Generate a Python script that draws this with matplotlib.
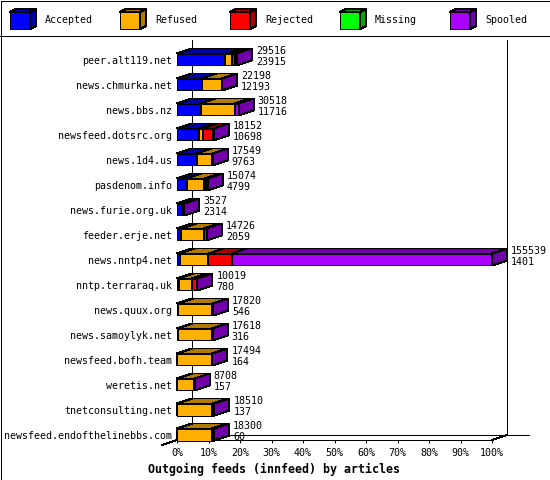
import numpy as np
import matplotlib
matplotlib.use("Agg")
import matplotlib.pyplot as plt
from matplotlib.patches import Polygon, Rectangle

# ---------------- data ----------------
feeds = ["peer.alt119.net", "news.chmurka.net", "news.bbs.nz", "newsfeed.dotsrc.org",
         "news.1d4.us", "pasdenom.info", "news.furie.org.uk", "feeder.erje.net",
         "news.nntp4.net", "nntp.terraraq.uk", "news.quux.org", "news.samoylyk.net",
         "newsfeed.bofh.team", "weretis.net", "tnetconsulting.net",
         "newsfeed.endofthelinebbs.com"]
offered = [29516, 22198, 30518, 18152, 17549, 15074, 3527, 14726,
           155539, 10019, 17820, 17618, 17494, 8708, 18510, 18300]
accepted = [23915, 12193, 11716, 10698, 9763, 4799, 2314, 2059,
            1401, 780, 546, 316, 164, 157, 137, 60]
refused = [3200, 9905, 16940, 2000, 7686, 8700, 800, 11260,
           14070, 6470, 16900, 16900, 16900, 8300, 17200, 17040]
rejected = [1300, 0, 0, 4950, 0, 650, 0, 0,
            11555, 2470, 0, 0, 0, 0, 0, 0]
missing = [0, 0, 0, 0, 0, 0, 0, 0, 0, 0, 0, 0, 0, 0, 0, 0]
spooled = [1101, 100, 1862, 504, 100, 925, 413, 1407,
           128513, 299, 374, 402, 430, 251, 1173, 1200]

series_names = ["Accepted", "Refused", "Rejected", "Missing", "Spooled"]
front_colors = ["#0000FF", "#FFB000", "#FF0000", "#00FF00", "#AA00FF"]
dark_colors = ["#0000AA", "#B07A00", "#AA0000", "#00AA00", "#7200AA"]
xticks = [0, 10, 20, 30, 40, 50, 60, 70, 80, 90, 100]
xtick_labels = ["0%", "10%", "20%", "30%", "40%", "50%", "60%", "70%", "80%", "90%", "100%"]
xlabel = "Outgoing feeds (innfeed) by articles"

# ---------------- layout ----------------
W, H = 550, 480
FONT = "DejaVu Sans Mono"
FS = 7.2
LW = 0.72  # 1 px at 100 dpi

fig = plt.figure(figsize=(W / 100, H / 100), dpi=100)
fig.patch.set_facecolor("white")

# background overlay in pixel coordinates: frame + legend
bg = fig.add_axes([0, 0, 1, 1], zorder=0)
bg.set_xlim(0, W)
bg.set_ylim(H, 0)
bg.axis("off")
bg.add_patch(Rectangle((0.5, 0.5), W - 1, H - 1, fill=False, ec="black", lw=LW,
                       antialiased=False))
bg.plot([0, W], [35.5, 35.5], color="black", lw=LW, antialiased=False)

for k, name in enumerate(series_names):
    x = 10 + 110 * k
    fc, dc = front_colors[k], dark_colors[k]
    top = [(x, 12), (x + 20, 12), (x + 26, 9), (x + 6, 9)]
    side = [(x + 20, 12), (x + 20, 29), (x + 26, 26), (x + 26, 9)]
    bg.add_patch(Polygon(top, closed=True, fc=dc, ec="black", lw=LW, antialiased=False))
    bg.add_patch(Rectangle((x, 12), 20, 17, fc=fc, ec="black", lw=LW, antialiased=False))
    bg.add_patch(Polygon(side, closed=True, fc=dc, ec="black", lw=LW, antialiased=False))
    bg.text(x + 35, 23, name, ha="left", va="baseline", family=FONT, fontsize=FS)

# main axes: x 0..100 %, rows on y
ax = fig.add_axes([177 / W, 40 / H, 315 / W, 400 / H], zorder=1)
ax.set_facecolor("none")
n = len(feeds)
ax.set_xlim(0, 100)
ax.set_ylim(15.22, -0.78)
for s in ["left", "right", "top"]:
    ax.spines[s].set_visible(False)
ax.spines["bottom"].set_linewidth(LW)
ax.spines["bottom"].set_antialiased(False)
ax.set_yticks([])
ax.set_xticks(xticks)
ax.tick_params(axis="x", direction="out", length=2.2, width=LW, labelbottom=False)

# depth offsets (15 px right, 5 px up) converted into data units
ox, oy = ax.transData.transform((0, 0))
p = ax.transData.inverted().transform((ox + 15, oy + 5))
DX, DY = p[0], p[1]
p2 = ax.transData.inverted().transform((ox, oy + 6))
HH = abs(p2[1])
p3 = ax.transData.inverted().transform((ox + 22, oy))
EXT = p3[0]

ybot, ytop = ax.get_ylim()
line_kw = dict(color="black", lw=LW, antialiased=False, clip_on=False, zorder=1)
ax.plot([DX, DX], [ytop, ybot + DY], **line_kw)
ax.plot([100 + DX, 100 + DX], [ytop, ybot + DY], **line_kw)
ax.plot([DX, 100 + DX + EXT], [ybot + DY, ybot + DY], **line_kw)
ax.plot([DX, -DX], [ybot + DY, ybot - DY], **line_kw)
ax.plot([100, 100 + DX], [ybot, ybot + DY], **line_kw)

scale = 100.0 / max(offered)
series = [accepted, refused, rejected, missing, spooled]
patch_kw = dict(ec="black", lw=LW, antialiased=False, clip_on=False, zorder=3)
for i in range(n):
    left = 0.0
    yt, yb = i - HH, i + HH
    for k in range(len(series)):
        v = series[k][i]
        if v <= 0:
            continue
        w = v * scale
        x0, x1 = left, left + w
        top = [(x0, yt), (x1, yt), (x1 + DX, yt + DY), (x0 + DX, yt + DY)]
        side = [(x1, yt), (x1, yb), (x1 + DX, yb + DY), (x1 + DX, yt + DY)]
        ax.add_patch(Polygon(top, closed=True, fc=dark_colors[k], **patch_kw))
        ax.add_patch(Rectangle((x0, yt), w, yb - yt, fc=front_colors[k], **patch_kw))
        ax.add_patch(Polygon(side, closed=True, fc=dark_colors[k], **patch_kw))
        left = x1
    xe = offered[i] * scale
    ax.annotate(str(offered[i]), xy=(xe, i), xytext=(19, 5.5), textcoords="offset pixels",
                ha="left", va="baseline", family=FONT, fontsize=FS, annotation_clip=False)
    ax.annotate(str(accepted[i]), xy=(xe, i), xytext=(19, -5.5), textcoords="offset pixels",
                ha="left", va="baseline", family=FONT, fontsize=FS, annotation_clip=False)
    ax.annotate(feeds[i], xy=(0, i), xytext=(-5, -4.5), textcoords="offset pixels",
                ha="right", va="baseline", family=FONT, fontsize=FS, annotation_clip=False)

for t, lab in zip(xticks, xtick_labels):
    ax.annotate(lab, xy=(t, 0), xycoords=ax.get_xaxis_transform(), xytext=(0, -16.5),
                textcoords="offset pixels", ha="center", va="baseline",
                family=FONT, fontsize=FS, annotation_clip=False)

fig.text(0.499, 6.5 / H, xlabel, ha="center", va="baseline", family=FONT,
         fontsize=8.4, fontweight="bold")

fig.savefig("out.png", dpi=100)
